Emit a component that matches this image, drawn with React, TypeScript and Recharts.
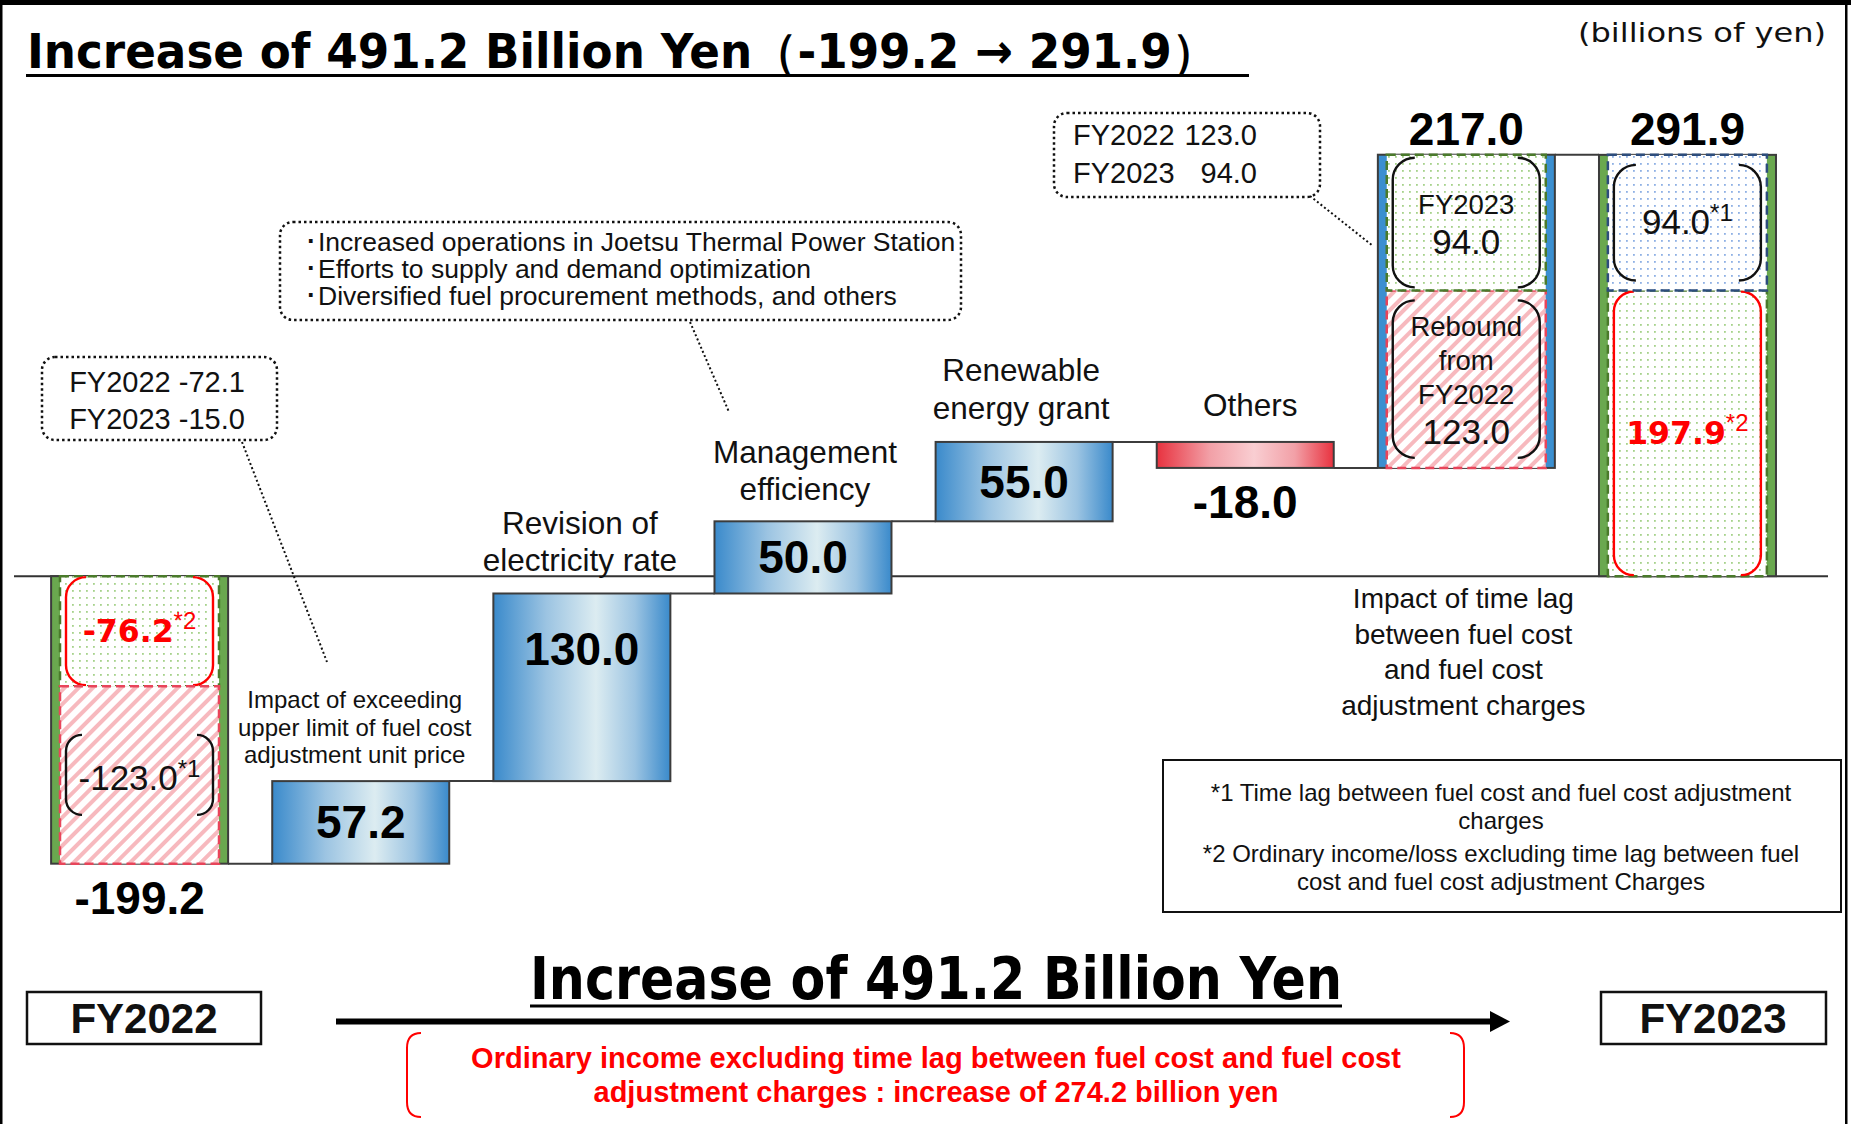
import React from 'react';
import { ComposedChart, Bar, XAxis, YAxis, CartesianGrid } from 'recharts';

const W = 1851;
const H = 1124;
const LS = "'Liberation Sans', Arial, sans-serif";
const DV = "'DejaVu Sans', Verdana, sans-serif";

// ---------- data ----------
const categories = [
  'FY2022',
  'Impact of exceeding upper limit of fuel cost adjustment unit price',
  'Revision of electricity rate',
  'Management efficiency',
  'Renewable energy grant',
  'Others',
  'Impact of time lag between fuel cost and fuel cost adjustment charges',
  'FY2023',
];
const categoryLines = [
  [],
  ['Impact of exceeding', 'upper limit of fuel cost', 'adjustment unit price'],
  ['Revision of', 'electricity rate'],
  ['Management', 'efficiency'],
  ['Renewable', 'energy grant'],
  ['Others'],
  ['Impact of time lag', 'between fuel cost', 'and fuel cost', 'adjustment charges'],
  [],
];
const changes = [-199.2, 57.2, 130.0, 50.0, 55.0, -18.0, 217.0, 291.9];
const isTotal = [true, false, false, false, false, false, false, true];
const valueLabels = ['-199.2', '57.2', '130.0', '50.0', '55.0', '-18.0', '217.0', '291.9'];

// breakdown inside the stacked bars (first = nearer the base, second = stacked on it)
const segFirstValues = [-76.2, 0, 0, 0, 0, 0, 123.0, 197.9];
const segSecondValues = [-123.0, 0, 0, 0, 0, 0, 94.0, 94.0];
const segFirstText = ['-76.2', '', '', '', '', '', 'Rebound|from|FY2022|123.0', '197.9'];
const segSecondText = ['-123.0', '', '', '', '', '', 'FY2023|94.0', '94.0'];
const segFirstNote = ['*2', '', '', '', '', '', '', '*2'];
const segSecondNote = ['*1', '', '', '', '', '', '', '*1'];

// ---------- styles ----------
const barFill = ['#6aa84f', 'url(#gBlue)', 'url(#gBlue)', 'url(#gBlue)', 'url(#gBlue)', 'url(#gRed)', '#3b8fd0', '#6aa84f'];
const valueLabelPos = ['below', 'center', 'top', 'center', 'center', 'below', 'above', 'above'];
const catLabelStyle: any[] = [
  null,
  { size: 24, lh: 27.5, anchor: 'top', gap: 18, dx: -6 },
  { size: 31.5, lh: 37, anchor: 'top', gap: 22, dx: -2 },
  { size: 31.5, lh: 37, anchor: 'top', gap: 21, dx: 2 },
  { size: 31.5, lh: 38, anchor: 'top', gap: 23, dx: -3 },
  { size: 31.5, lh: 37, anchor: 'top', gap: 26, dx: 5 },
  { size: 28, lh: 35.5, anchor: 'zero', gap: 32, dx: -3 },
  null,
];
const ORD = { fill: 'url(#pGreenDot)', stroke: '#4a7a2b', bracket: '#ff0000', color: '#ff0000', bold: true, padY: 1, r: 20 };
const HATCH = { fill: 'url(#pRedHatch)', stroke: '#e8455a', bracket: '#111', color: '#111', bold: false, padY: 10, r: 22 };
const HATCH22 = { ...HATCH, bracketH: 80, r: 16, dy: 15 };
const GREEN_LAG = { fill: 'url(#pGreenDot)', stroke: '#4a7a2b', bracket: '#111', color: '#111', bold: false, padY: 3, r: 22 };
const BLUE_LAG = { fill: 'url(#pBlueDot)', stroke: '#2d4d7c', bracket: '#111', color: '#111', bold: false, padY: 10, r: 22 };
const segFirstStyle: any[] = [ORD, null, null, null, null, null, HATCH, ORD];
const segSecondStyle: any[] = [HATCH22, null, null, null, null, null, GREEN_LAG, BLUE_LAG];

// ---------- rows ----------
const rows = (() => {
  let running = 0;
  return categories.map((name, i) => {
    const start = isTotal[i] ? 0 : running;
    const end = start + changes[i];
    running = end;
    const lo = Math.min(start, end);
    const hi = Math.max(start, end);
    return {
      name,
      range: [lo, hi],
      start,
      end,
      base: segFirstValues[i] || segSecondValues[i] ? start : 0,
      segFirst: segFirstValues[i],
      segSecond: segSecondValues[i],
    };
  });
})();

function MainShape(props: any) {
  const { x, y, width, height, index, payload } = props;
  const top = Math.min(y, y + height);
  const h = Math.abs(height);
  const bottom = top + h;
  const cx = x + width / 2;
  const [lo, hi] = payload.range;
  const ppu = hi !== lo ? h / (hi - lo) : 0;
  const band = width / 0.8;
  const out: any[] = [];
  if (index < categories.length - 1) {
    const yl = payload.end >= hi - 1e-9 ? top : bottom;
    out.push(<line key="c" x1={x + width} x2={x + band} y1={yl} y2={yl} stroke="#3c3c3c" strokeWidth={2} />);
  }
  out.push(<rect key="r" x={x} y={top} width={width} height={h} fill={barFill[index]} stroke="#3c3c3c" strokeWidth={2} />);
  const pos = valueLabelPos[index];
  let ly = top + h / 2 + 16;
  if (pos === 'below') ly = bottom + 50;
  if (pos === 'top') ly = top + 72;
  if (pos === 'above') ly = top - 10;
  out.push(
    <text key="v" x={cx} y={ly} textAnchor="middle" fontFamily={LS} fontWeight="bold" fontSize={46} fill="#000">
      {valueLabels[index]}
    </text>
  );
  const cs = catLabelStyle[index];
  if (cs) {
    const lines = categoryLines[index];
    const n = lines.length;
    lines.forEach((t, k) => {
      let by;
      if (cs.anchor === 'top') by = top - cs.gap - (n - 1 - k) * cs.lh;
      else by = bottom + lo * ppu + cs.gap + k * cs.lh;
      out.push(
        <text key={'l' + k} x={cx + cs.dx} y={by} textAnchor="middle" fontFamily={LS} fontSize={cs.size} fill="#111">
          {t}
        </text>
      );
    });
  }
  return <g>{out}</g>;
}

function makeSegShape(texts: string[], notes: string[], styles: any[]) {
  return (props: any) => {
    const { x, y, width, height, index } = props;
    const st = styles[index];
    if (!st || !height) return <g />;
    const top = Math.min(y, y + height);
    const h = Math.abs(height);
    const cx = x + width / 2;
    const cy = top + h / 2;
    const bh = st.bracketH ?? h - 2 * st.padY;
    const bt = cy - bh / 2;
    const bb = cy + bh / 2;
    const bl = x + 6;
    const br = x + width - 6;
    const r = Math.min(st.r, bh / 2);
    const path = `M${bl + r},${bt} A${r},${r} 0 0 0 ${bl},${bt + r} L${bl},${bb - r} A${r},${r} 0 0 0 ${bl + r},${bb} M${br - r},${bt} A${r},${r} 0 0 1 ${br},${bt + r} L${br},${bb - r} A${r},${r} 0 0 1 ${br - r},${bb}`;
    const lines = texts[index].split('|');
    const isNum = (s: string) => /^-?[\d.]+$/.test(s);
    const offs: number[] = [];
    let acc = 0;
    lines.forEach((l, k) => {
      if (k > 0) acc += isNum(l) ? 40 : 34;
      offs.push(acc);
    });
    const first = cy + (st.dy ?? 11) - acc / 2;
    const note = notes[index];
    return (
      <g>
        <rect x={x} y={top} width={width} height={h} fill={st.fill} stroke={st.stroke} strokeWidth={2.5} strokeDasharray="9 5" />
        <path d={path} fill="none" stroke={st.bracket} strokeWidth={2.4} />
        {lines.map((l, k) => {
          const num = isNum(l);
          const fam = st.bold ? DV : LS;
          const size = st.bold ? 31.5 : num ? 35 : 27.5;
          return (
            <text key={k} x={cx} y={first + offs[k]} textAnchor="middle" fontFamily={fam} fontWeight={st.bold ? 'bold' : 'normal'} fontSize={size} fill={st.color}>
              {l}
              {note && k === lines.length - 1 ? (
                <tspan dy={-13} fontFamily={LS} fontWeight="normal" fontSize={24}>
                  {note}
                </tspan>
              ) : null}
            </text>
          );
        })}
      </g>
    );
  };
}

const SegFirstShape = makeSegShape(segFirstText, segFirstNote, segFirstStyle);
const SegSecondShape = makeSegShape(segSecondText, segSecondNote, segSecondStyle);

function DottedBox({ x, y, w, h }: any) {
  return <rect x={x} y={y} width={w} height={h} rx={13} ry={13} fill="none" stroke="#111" strokeWidth={2.5} strokeDasharray="2.5 3" />;
}
function Leader({ x1, y1, x2, y2 }: any) {
  return <line x1={x1} y1={y1} x2={x2} y2={y2} stroke="#111" strokeWidth={2} strokeDasharray="2 2.5" />;
}

function Overlay() {
  const T = (p: any) => <text fontFamily={LS} fill="#111" {...p} />;
  return (
    <svg width={W} height={H} style={{ position: 'absolute', left: 0, top: 0, pointerEvents: 'none' }}>
      <rect x={0} y={0} width={W} height={5} fill="#000" />
      <rect x={0} y={0} width={2.5} height={H} fill="#000" />
      <rect x={1845} y={0} width={2.5} height={H} fill="#000" />

      <text x={27} y={68} fontFamily={DV} fontWeight="bold" fontSize={48} textLength={1190} lengthAdjust="spacingAndGlyphs" fill="#000">
        Increase of 491.2 Billion Yen（-199.2 → 291.9）
      </text>
      <line x1={26} x2={1249} y1={75.5} y2={75.5} stroke="#000" strokeWidth={3} />
      <text x={1578} y={42} fontFamily={DV} fontSize={27} textLength={248} lengthAdjust="spacingAndGlyphs" fill="#111">
        (billions of yen)
      </text>

      <DottedBox x={42} y={357} w={235} h={83} />
      <T x={157} y={392} textAnchor="middle" fontSize={29}>FY2022 -72.1</T>
      <T x={157} y={429} textAnchor="middle" fontSize={29}>FY2023 -15.0</T>
      <Leader x1={242} y1={442} x2={327} y2={662} />

      <DottedBox x={280} y={222} w={681} h={98} />
      <T x={304} y={251} fontSize={26.5}>･Increased operations in Joetsu Thermal Power Station</T>
      <T x={304} y={278} fontSize={26.5}>･Efforts to supply and demand optimization</T>
      <T x={304} y={305} fontSize={26.5}>･Diversified fuel procurement methods, and others</T>
      <Leader x1={690} y1={322} x2={729} y2={412} />

      <DottedBox x={1054} y={113} w={266} h={84} />
      <T x={1073} y={145} fontSize={29}>FY2022</T>
      <T x={1257} y={145} fontSize={29} textAnchor="end">123.0</T>
      <T x={1073} y={183} fontSize={29}>FY2023</T>
      <T x={1257} y={183} fontSize={29} textAnchor="end">94.0</T>
      <Leader x1={1310} y1={196} x2={1373} y2={246} />

      <rect x={1163} y={760} width={678} height={152} fill="none" stroke="#111" strokeWidth={2} />
      <T x={1501} y={801} textAnchor="middle" fontSize={24}>*1 Time lag between fuel cost and fuel cost adjustment</T>
      <T x={1501} y={829} textAnchor="middle" fontSize={24}>charges</T>
      <T x={1501} y={862} textAnchor="middle" fontSize={24}>*2 Ordinary income/loss excluding time lag between fuel</T>
      <T x={1501} y={890} textAnchor="middle" fontSize={24}>cost and fuel cost adjustment Charges</T>

      <rect x={27} y={992} width={234} height={52} fill="#fff" stroke="#111" strokeWidth={2.5} />
      <T x={144} y={1033} textAnchor="middle" fontSize={42} fontWeight="bold">FY2022</T>
      <rect x={1601} y={992} width={225} height={52} fill="#fff" stroke="#111" strokeWidth={2.5} />
      <T x={1713} y={1033} textAnchor="middle" fontSize={42} fontWeight="bold">FY2023</T>

      <text x={530} y={999} fontFamily={DV} fontWeight="bold" fontSize={58} textLength={812} lengthAdjust="spacingAndGlyphs" fill="#000">
        Increase of 491.2 Billion Yen
      </text>
      <line x1={530} x2={1342} y1={1006} y2={1006} stroke="#000" strokeWidth={3} />

      <line x1={336} x2={1494} y1={1021.5} y2={1021.5} stroke="#000" strokeWidth={6} />
      <polygon points="1490,1011 1510,1021.5 1490,1032" fill="#000" />

      <path d="M421,1033 Q407,1033 407,1048 L407,1102 Q407,1117 421,1117" fill="none" stroke="#ff0000" strokeWidth={2} />
      <path d="M1450,1033 Q1464,1033 1464,1048 L1464,1102 Q1464,1117 1450,1117" fill="none" stroke="#ff0000" strokeWidth={2} />
      <text x={936} y={1068} textAnchor="middle" fontFamily={LS} fontWeight="bold" fontSize={29} fill="#ff0000">
        Ordinary income excluding time lag between fuel cost and fuel cost
      </text>
      <text x={936} y={1102} textAnchor="middle" fontFamily={LS} fontWeight="bold" fontSize={29} fill="#ff0000">
        adjustment charges : increase of 274.2 billion yen
      </text>
    </svg>
  );
}

export default function App() {
  return (
    <div style={{ position: 'absolute', left: 0, top: 0, width: W, height: H, background: '#fff', overflow: 'hidden' }}>
      <svg width={0} height={0} style={{ position: 'absolute' }}>
        <defs>
          <linearGradient id="gBlue" x1="0" y1="0" x2="1" y2="0">
            <stop offset="0" stopColor="#3a8acb" />
            <stop offset="0.3" stopColor="#9cc4e2" />
            <stop offset="0.58" stopColor="#dcecf1" />
            <stop offset="0.8" stopColor="#9cc4e2" />
            <stop offset="1" stopColor="#3a8acb" />
          </linearGradient>
          <linearGradient id="gRed" x1="0" y1="0" x2="1" y2="0">
            <stop offset="0" stopColor="#e8323f" />
            <stop offset="0.3" stopColor="#f2a0a7" />
            <stop offset="0.55" stopColor="#f9ced2" />
            <stop offset="0.78" stopColor="#f2a0a7" />
            <stop offset="1" stopColor="#e8323f" />
          </linearGradient>
          <pattern id="pGreenDot" width="7" height="7" patternUnits="userSpaceOnUse">
            <rect width="7" height="7" fill="#fff" />
            <rect x="2" y="2" width="1.8" height="1.8" fill="#a6d28a" />
          </pattern>
          <pattern id="pBlueDot" width="7" height="7" patternUnits="userSpaceOnUse">
            <rect width="7" height="7" fill="#fff" />
            <rect x="2" y="2" width="1.8" height="1.8" fill="#8eb0e4" />
          </pattern>
          <pattern id="pRedHatch" width="10" height="10" patternUnits="userSpaceOnUse" patternTransform="rotate(45)">
            <rect width="10" height="10" fill="#fff" />
            <rect width="4" height="10" fill="#f7b9be" />
          </pattern>
        </defs>
      </svg>
      <div style={{ position: 'absolute', left: 0, top: 0 }}>
        <ComposedChart width={W} height={H} data={rows} margin={{ top: 71, right: 23, bottom: 187, left: 14 }} barCategoryGap="10%">
          <XAxis xAxisId="main" dataKey="name" hide padding={{ left: 15, right: 30 }} />
          <XAxis xAxisId="seg" dataKey="name" hide padding={{ left: 15, right: 30 }} />
          <YAxis hide width={0} domain={[-250, 350]} ticks={[0]} type="number" allowDataOverflow />
          <CartesianGrid xAxisId="main" vertical={false} horizontalValues={[0]} stroke="#333" strokeWidth={2} />
          <Bar xAxisId="main" dataKey="range" isAnimationActive={false} shape={MainShape} />
          <Bar xAxisId="seg" dataKey="base" stackId="s" barSize={159} isAnimationActive={false} shape={() => <g />} />
          <Bar xAxisId="seg" dataKey="segFirst" stackId="s" barSize={159} isAnimationActive={false} shape={SegFirstShape} />
          <Bar xAxisId="seg" dataKey="segSecond" stackId="s" barSize={159} isAnimationActive={false} shape={SegSecondShape} />
        </ComposedChart>
      </div>
      <Overlay />
    </div>
  );
}
